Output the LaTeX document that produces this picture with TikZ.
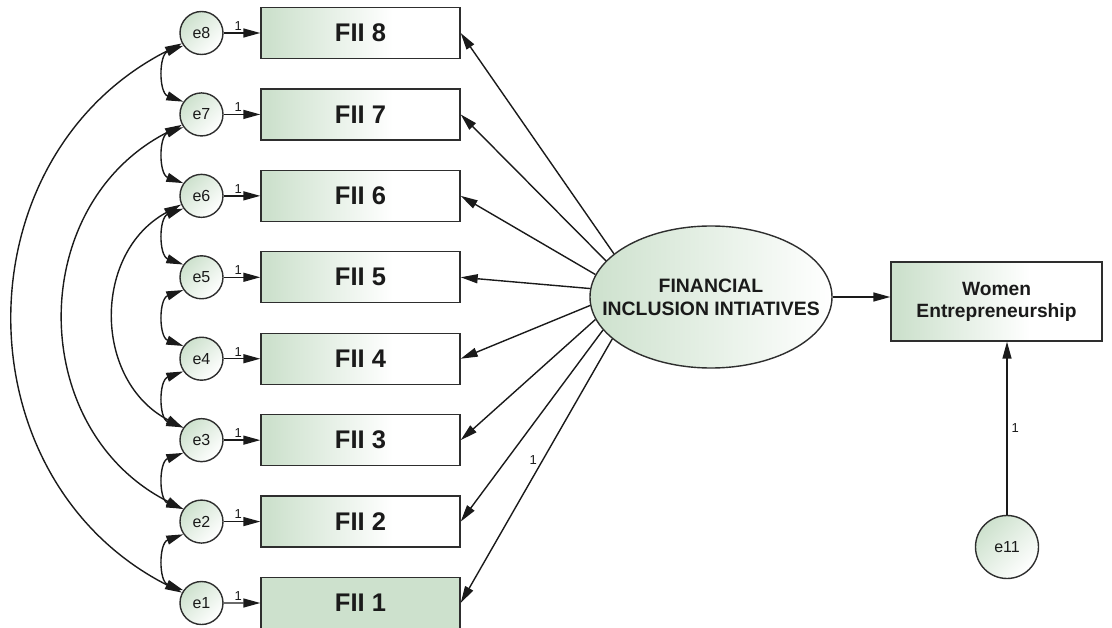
\documentclass[tikz,border=0pt]{standalone}
\usepackage{fontspec}
\setmainfont{Liberation Sans}
\usetikzlibrary{arrows.meta,shapes.geometric,calc}
\definecolor{gr}{HTML}{CDE1CD}
\definecolor{ink}{HTML}{1A1A1A}
\definecolor{edge}{HTML}{2E2E2E}
\pgfdeclarehorizontalshading{boxshade}{100bp}{color(0bp)=(gr); color(27bp)=(gr); color(58bp)=(white); color(100bp)=(white)}
\begin{document}
\begin{tikzpicture}[x=1pt,y=1pt,line width=1.4pt,
  >={Triangle[length=17pt,width=9pt]},
  errc/.style={circle, draw=edge, minimum size=43pt, inner sep=0pt, top color=gr, bottom color=white, shading angle=45, text=ink, font=\fontsize{16}{16}\selectfont},
  obs/.style={rectangle, draw=edge, minimum width=199pt, minimum height=51pt, inner sep=0pt, text=ink, font=\bfseries\fontsize{25.5}{25.5}\selectfont},
  obsg/.style={obs, shade, shading=boxshade},
  one/.style={font=\fontsize{13}{13}\selectfont, text=ink, inner sep=1pt},
  path/.style={draw=ink, ->},
  cov/.style={draw=ink, <->}]
\useasboundingbox (0,0) rectangle (1112,-628);
% error terms
\foreach \i in {1,...,8} {
  \node[errc] (e\i) at (201.5, {-33-81.43*(8-\i)}) {e\i};
}
% observed boxes
\node[obs, fill=gr] (f1) at (360.5,-603) {FII 1};
\foreach \i in {2,...,8} {
  \node[obsg] (f\i) at (360.5, {-33-81.43*(8-\i)}) {FII \i};
}
\foreach \i in {1,...,8} {
  \draw[path] (e\i) -- node[one, pos=0.4, above=1pt] {1} (f\i);
}
% latent
\node[ellipse, draw=edge, minimum width=242pt, minimum height=142pt, inner sep=0pt,
  left color=gr, right color=white,
  label={[align=center, text=ink, font=\bfseries\fontsize{19.4}{23}\selectfont]center:FINANCIAL\\INCLUSION INTIATIVES}] (fi) at (711,-297) {};
% outcome
\node[rectangle, draw=edge, minimum width=211pt, minimum height=79pt, inner sep=0pt,
  shade, shading=boxshade, align=center, text=ink,
  font=\bfseries\fontsize{19.2}{22}\selectfont] (we) at (996.5,-301.5) {Women\\Entrepreneurship};
\node[errc, minimum size=63pt] (e11) at (1007,-547) {e11};
% loadings
\draw[path] (fi.156.3) -- (f8.east);
\draw[path] (fi.161.7) -- (f7.east);
\draw[path] (fi.169.4) -- (f6.east);
\draw[path] (fi.176.6) -- (f5.east);
\draw[path] (fi.184.3) -- (f4.east);
\draw[path] (fi.191.9) -- (f3.east);
\draw[path] (fi.197.8) -- (f2.east);
\draw[path] (fi.203.2) -- node[one, pos=0.46, left=4pt] {1} (f1.east);
% structural
\draw[path] (fi.east) -- (fi.east -| we.west);
\draw[path] (e11.north) -- node[one, right=3pt] {1} (e11.north |- we.south);
% covariances
\draw[cov] (e8.208) to[bend right=63, looseness=1.17] (e1.152);
\draw[cov] (e7.208) to[bend right=63, looseness=1.17] (e2.146);
\draw[cov] (e6.203) to[bend right=62, looseness=1.16] (e3.146);
\foreach \i/\j in {8/7,7/6,6/5,5/4,4/3,3/2,2/1} {
  \draw[cov] (e\i.215) to[bend right=70, looseness=1.2] (e\j.145);
}
\end{tikzpicture}
\end{document}
